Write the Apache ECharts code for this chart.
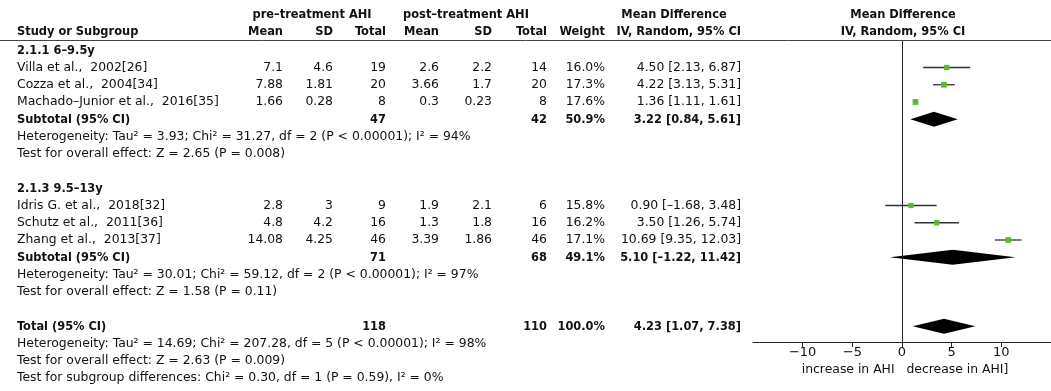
<!DOCTYPE html>
<html><head><meta charset="utf-8">
<script src="https://cdn.jsdelivr.net/npm/echarts@6/dist/echarts.min.js"></script>
<style>html,body{margin:0;padding:0;background:#fff}#c{width:1051px;height:391px}</style>
</head><body><div id="c"></div>
<script>
// ---- data ----
const groupNames = ["2.1.1 6\u20139.5y", "2.1.3 9.5\u201313y"];
const studies = ["Villa et al.,  2002[26]", "Cozza et al.,  2004[34]", "Machado\u2013Junior et al.,  2016[35]",
                 "Idris G. et al.,  2018[32]", "Schutz et al.,  2011[36]", "Zhang et al.,  2013[37]"];
const studyGroup = [0, 0, 0, 1, 1, 1];
const preMean = ["7.1", "7.88", "1.66", "2.8", "4.8", "14.08"];
const preSD = ["4.6", "1.81", "0.28", "3", "4.2", "4.25"];
const preTotal = [19, 20, 8, 9, 16, 46];
const postMean = ["2.6", "3.66", "0.3", "1.9", "1.3", "3.39"];
const postSD = ["2.2", "1.7", "0.23", "2.1", "1.8", "1.86"];
const postTotal = [14, 20, 8, 6, 16, 46];
const weight = [16.0, 17.3, 17.6, 15.8, 16.2, 17.1];
const md = [4.50, 4.22, 1.36, 0.90, 3.50, 10.69];
const mdLo = [2.13, 3.13, 1.11, -1.68, 1.26, 9.35];
const mdHi = [6.87, 5.31, 1.61, 3.48, 5.74, 12.03];
const subPreTotal = [47, 71];
const subPostTotal = [42, 68];
const subWeight = [50.9, 49.1];
const subMd = [3.22, 5.10];
const subLo = [0.84, -1.22];
const subHi = [5.61, 11.42];
const subHet = ["Heterogeneity: Tau\u00b2 = 3.93; Chi\u00b2 = 31.27, df = 2 (P < 0.00001); I\u00b2 = 94%",
                "Heterogeneity: Tau\u00b2 = 30.01; Chi\u00b2 = 59.12, df = 2 (P < 0.00001); I\u00b2 = 97%"];
const subTest = ["Test for overall effect: Z = 2.65 (P = 0.008)", "Test for overall effect: Z = 1.58 (P = 0.11)"];
const totalPre = 118, totalPost = 110, totalWeight = 100.0;
const totalMd = 4.23, totalLo = 1.07, totalHi = 7.38;
const totalNotes = ["Heterogeneity: Tau\u00b2 = 14.69; Chi\u00b2 = 207.28, df = 5 (P < 0.00001); I\u00b2 = 98%",
                    "Test for overall effect: Z = 2.63 (P = 0.009)",
                    "Test for subgroup differences: Chi\u00b2 = 0.30, df = 1 (P = 0.59), I\u00b2 = 0%"];
const xTicks = [-10, -5, 0, 5, 10];

// ---- layout ----
const ROW0 = 50.25, ROWH = 17.25;           // pixel position of row 0 and row height
const rowOf = y => (y - ROW0) / ROWH;
const COL = {label: 17, preMean: 283, preSD: 333, preTot: 386, postMean: 439, postSD: 492, postTot: 547, weight: 605, md: 741};
const FONT = '"DejaVu Sans", sans-serif';
const BFONT = '"DejaVu Sans Condensed", "DejaVu Sans", sans-serif';
const FS = 12.4, BFS = 12.7;
const fmt = (v, d) => v.toFixed(d).replace('-', '\u2013');

// build rows
const cells = [];
function cell(x, r, text, align, bold) { cells.push({x, r, text: String(text), align, bold: !!bold}); }
const hdr1 = rowOf(15), hdr2 = rowOf(32);
cell(312, hdr1, "pre\u2013treatment AHI", "center", 1);
cell(466, hdr1, "post\u2013treatment AHI", "center", 1);
cell(674, hdr1, "Mean Difference", "center", 1);
cell(903, hdr1, "Mean Difference", "center", 1);
cell(COL.label, hdr2, "Study or Subgroup", "left", 1);
cell(COL.preMean, hdr2, "Mean", "right", 1);
cell(COL.preSD, hdr2, "SD", "right", 1);
cell(COL.preTot, hdr2, "Total", "right", 1);
cell(COL.postMean, hdr2, "Mean", "right", 1);
cell(COL.postSD, hdr2, "SD", "right", 1);
cell(COL.postTot, hdr2, "Total", "right", 1);
cell(COL.weight, hdr2, "Weight", "right", 1);
cell(COL.md, hdr2, "IV, Random, 95% CI", "right", 1);
cell(903, hdr2, "IV, Random, 95% CI", "center", 1);

const studyPts = [], subPts = [];
let r = 0;
groupNames.forEach((g, gi) => {
  cell(COL.label, r, g, "left", 1); r++;
  studies.forEach((s, i) => {
    if (studyGroup[i] !== gi) return;
    cell(COL.label, r, s, "left");
    cell(COL.preMean, r, preMean[i], "right");
    cell(COL.preSD, r, preSD[i], "right");
    cell(COL.preTot, r, preTotal[i], "right");
    cell(COL.postMean, r, postMean[i], "right");
    cell(COL.postSD, r, postSD[i], "right");
    cell(COL.postTot, r, postTotal[i], "right");
    cell(COL.weight, r, fmt(weight[i], 1) + "%", "right");
    cell(COL.md, r, fmt(md[i], 2) + " [" + fmt(mdLo[i], 2) + ", " + fmt(mdHi[i], 2) + "]", "right");
    studyPts.push([md[i], r, mdLo[i], mdHi[i], weight[i]]);
    r++;
  });
  cell(COL.label, r, "Subtotal (95% CI)", "left", 1);
  cell(COL.preTot, r, subPreTotal[gi], "right", 1);
  cell(COL.postTot, r, subPostTotal[gi], "right", 1);
  cell(COL.weight, r, fmt(subWeight[gi], 1) + "%", "right", 1);
  cell(COL.md, r, fmt(subMd[gi], 2) + " [" + fmt(subLo[gi], 2) + ", " + fmt(subHi[gi], 2) + "]", "right", 1);
  subPts.push([subMd[gi], r, subLo[gi], subHi[gi]]);
  r++;
  cell(COL.label, r, subHet[gi], "left"); r++;
  cell(COL.label, r, subTest[gi], "left"); r++;
  r++;
});
cell(COL.label, r, "Total (95% CI)", "left", 1);
cell(COL.preTot, r, totalPre, "right", 1);
cell(COL.postTot, r, totalPost, "right", 1);
cell(COL.weight, r, fmt(totalWeight, 1) + "%", "right", 1);
cell(COL.md, r, fmt(totalMd, 2) + " [" + fmt(totalLo, 2) + ", " + fmt(totalHi, 2) + "]", "right", 1);
subPts.push([totalMd, r, totalLo, totalHi]);
r++;
totalNotes.forEach(t => { cell(COL.label, r, t, "left"); r++; });

const PLOT_TOP = 40, PLOT_BOTTOM = 342;

const chart = echarts.init(document.getElementById('c'), null, {renderer: 'canvas'});
chart.setOption({
  animation: false,
  backgroundColor: '#fff',
  textStyle: {fontFamily: FONT},
  grid: [
    {left: 0, top: 0, width: 1051, height: 391, containLabel: false},
    {left: 753, top: PLOT_TOP, width: 301, height: PLOT_BOTTOM - PLOT_TOP, containLabel: false}
  ],
  xAxis: [
    {gridIndex: 0, type: 'value', min: 0, max: 1051, show: false},
    {gridIndex: 1, type: 'value', min: -15, max: 15, interval: 5,
     splitLine: {show: false},
     axisLine: {show: true, onZero: false, lineStyle: {color: '#222', width: 1}},
     axisTick: {show: true, inside: false, length: 5, customValues: xTicks, lineStyle: {color: '#222'}},
     axisLabel: {show: true, customValues: xTicks, color: '#111', fontSize: 13, fontFamily: FONT, margin: 4,
                 formatter: v => String(v).replace('-', '\u2212')},
     name: 'increase in AHI   decrease in AHI]', nameLocation: 'middle', nameGap: 22,
     nameTextStyle: {color: '#111', fontSize: FS, fontFamily: FONT, padding: [0, 0, 0, 6]}}
  ],
  yAxis: [
    {gridIndex: 0, type: 'value', inverse: true, min: rowOf(0), max: rowOf(391), show: false},
    {gridIndex: 1, type: 'value', inverse: true, min: rowOf(PLOT_TOP), max: rowOf(PLOT_BOTTOM), show: false}
  ],
  graphic: [
    {type: 'line', shape: {x1: 0, y1: 40.5, x2: 1051, y2: 40.5}, style: {stroke: '#444', lineWidth: 1}, z: 10}
  ],
  series: [
    {
      type: 'custom', xAxisIndex: 0, yAxisIndex: 0, clip: false,
      data: cells.map(c => [c.x, c.r]),
      renderItem: (params, api) => {
        const c = cells[params.dataIndex];
        const p = api.coord([c.x, c.r]);
        return {type: 'text', x: p[0], y: p[1], style: {
          text: c.text, textAlign: c.align, textVerticalAlign: 'middle',
          font: c.bold ? ('bold ' + BFS + 'px ' + BFONT) : (FS + 'px ' + FONT), fill: '#111'}};
      }
    },
    {
      type: 'custom', xAxisIndex: 1, yAxisIndex: 1, clip: false,
      data: studyPts,
      markLine: {silent: true, symbol: 'none', label: {show: false},
        lineStyle: {color: '#222', width: 1, type: 'solid'}, data: [{xAxis: 0}]},
      renderItem: (params, api) => {
        const c = api.coord([api.value(0), api.value(1)]);
        const lo = api.coord([api.value(2), api.value(1)]);
        const hi = api.coord([api.value(3), api.value(1)]);
        const s = api.value(4) * 0.33;
        return {type: 'group', children: [
          {type: 'line', shape: {x1: lo[0], y1: c[1], x2: hi[0], y2: c[1]}, style: {stroke: '#333', lineWidth: 1.3}},
          {type: 'rect', shape: {x: c[0] - s / 2, y: c[1] - s / 2, width: s, height: s}, style: {fill: '#5cb82c'}}
        ]};
      }
    },
    {
      type: 'custom', xAxisIndex: 1, yAxisIndex: 1, clip: false,
      data: subPts,
      renderItem: (params, api) => {
        const c = api.coord([api.value(0), api.value(1)]);
        const lo = api.coord([api.value(2), api.value(1)]);
        const hi = api.coord([api.value(3), api.value(1)]);
        const h = 7.5;
        return {type: 'polygon', shape: {points: [[lo[0], c[1]], [c[0], c[1] - h], [hi[0], c[1]], [c[0], c[1] + h]]},
          style: {fill: '#000'}};
      }
    }
  ]
});
</script>
</body></html>
